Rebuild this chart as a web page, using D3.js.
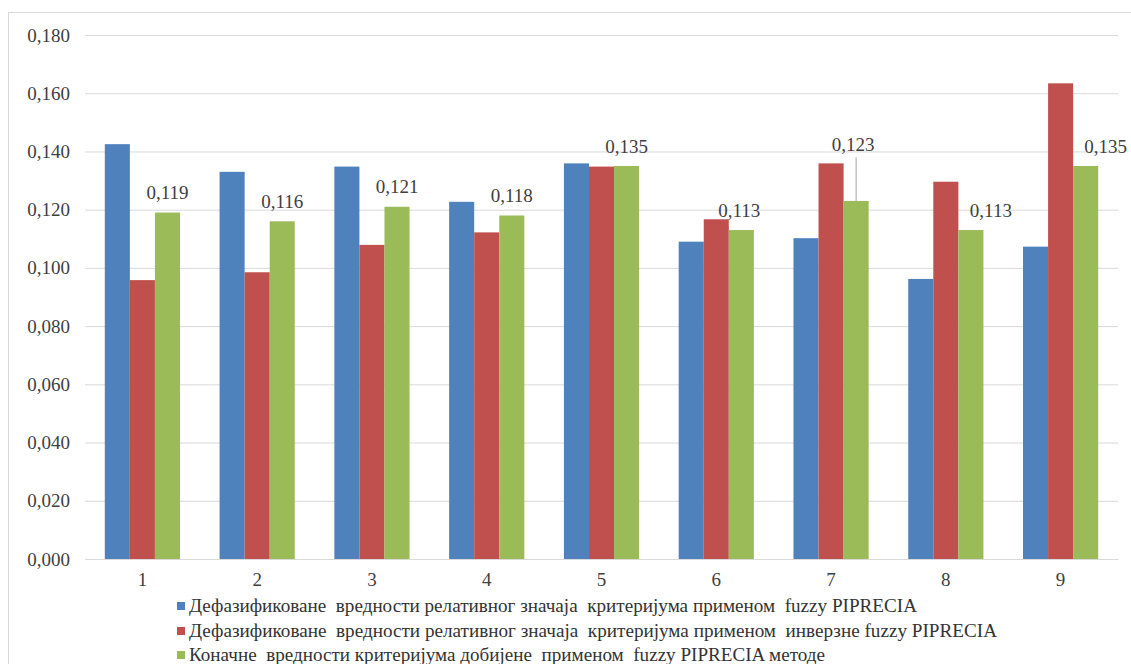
<!DOCTYPE html>
<html>
<head>
<meta charset="utf-8">
<script src="https://cdn.jsdelivr.net/npm/d3@7"></script>
<style>
  body { margin: 0; background: #ffffff; }
  svg { display: block; }
  svg text { font-family: 'Liberation Serif', 'DejaVu Serif', serif !important; }
</style>
</head>
<body>
<svg id="chart" width="1131" height="664"></svg>
<script>
// Criteria 1..9
const categories = ["1", "2", "3", "4", "5", "6", "7", "8", "9"];

// Defuzzified relative importance, fuzzy PIPRECIA
const fuzzyValues = [0.1425, 0.1330, 0.1348, 0.1227, 0.1359, 0.1090, 0.1102, 0.0962, 0.1073];
// Defuzzified relative importance, inverse fuzzy PIPRECIA
const inverseValues = [0.0958, 0.0985, 0.1079, 0.1122, 0.1348, 0.1167, 0.1359, 0.1296, 0.1634];
// Final criteria weights
const finalValues = [0.119, 0.116, 0.121, 0.118, 0.135, 0.113, 0.123, 0.113, 0.135];

const yTicks = [0, 0.02, 0.04, 0.06, 0.08, 0.10, 0.12, 0.14, 0.16, 0.18];

const seriesNames = [
  "Дефазификоване  вредности релативног значаја  критеријума применом  fuzzy PIPRECIA",
  "Дефазификоване  вредности релативног значаја  критеријума применом  инверзне fuzzy PIPRECIA",
  "Коначне  вредности критеријума добијене  применом  fuzzy PIPRECIA методе"
];

// ---- layout / style ----
const FONT = "'Liberation Serif', 'DejaVu Serif', serif";
const colors = ["#4f81bd", "#c0504d", "#9bbb59"];
const plot = { left: 85, right: 1118, top: 35, bottom: 559 };
// Hand-placed value labels: extra shift from default spot, and whether a leader line is drawn
const labelLayout = [
  { dx: 0, dy: 0, leader: false },
  { dx: 0, dy: 0, leader: false },
  { dx: 0, dy: 0, leader: false },
  { dx: 0, dy: 0, leader: false },
  { dx: 0, dy: 0, leader: false },
  { dx: -2, dy: 0, leader: false },
  { dx: -3, dy: -36.5, leader: true },
  { dx: 20, dy: 0, leader: false },
  { dx: 20, dy: 0, leader: false }
];
const legendLayout = { x: 177, rows: [606, 631, 655], widths: [728, 808, 636] };

const fmt = v => d3.format(".3f")(v).replace(".", ",");

const svg = d3.select("#chart");

// outer chart frame
svg.append("rect")
  .attr("x", 8.5).attr("y", 12.5)
  .attr("width", 1140).attr("height", 700)
  .attr("fill", "#ffffff").attr("stroke", "#d9d9d9").attr("stroke-width", 1);

const x = d3.scaleBand().domain(categories)
  .range([plot.left, plot.right]).paddingInner(0.345).paddingOuter(0.1725);
const xs = d3.scaleBand().domain([0, 1, 2]).range([0, x.bandwidth()]);
const y = d3.scaleLinear().domain([0, 0.18]).range([plot.bottom, plot.top]);

// y axis with gridlines
const yAxis = svg.append("g")
  .attr("transform", `translate(${plot.left},0)`)
  .call(d3.axisLeft(y).tickValues(yTicks).tickFormat(fmt)
    .tickSize(-(plot.right - plot.left)).tickPadding(15));
yAxis.attr("font-family", null);
yAxis.select(".domain").remove();
yAxis.selectAll(".tick line").attr("stroke", "#d9d9d9").attr("stroke-width", 1);
yAxis.selectAll(".tick text")
  .style("font-family", FONT)
  .attr("font-size", 19).attr("fill", "#404040");

// bars
const series = [fuzzyValues, inverseValues, finalValues];
series.forEach((vals, si) => {
  svg.append("g").selectAll("rect")
    .data(vals)
    .join("rect")
    .attr("x", (d, i) => x(categories[i]) + xs(si))
    .attr("y", d => y(d))
    .attr("width", xs.bandwidth())
    .attr("height", d => y(0) - y(d))
    .attr("fill", colors[si]);
});

// x axis
const xAxis = svg.append("g")
  .attr("transform", `translate(0,${plot.bottom})`)
  .call(d3.axisBottom(x).tickSize(0).tickPadding(14));
xAxis.attr("font-family", null);
xAxis.select(".domain").attr("stroke", "#d9d9d9");
xAxis.selectAll(".tick text")
  .style("font-family", FONT)
  .attr("font-size", 19).attr("fill", "#404040");

// value labels on the final-weight bars
const labels = svg.append("g");
finalValues.forEach((v, i) => {
  const cx = x(categories[i]) + xs(2) + xs.bandwidth() / 2;
  const lay = labelLayout[i];
  const ly = y(v) - 20 + lay.dy;
  if (lay.leader) {
    labels.append("line")
      .attr("x1", cx).attr("x2", cx)
      .attr("y1", ly + 13).attr("y2", y(v))
      .attr("stroke", "#a6a6a6").attr("stroke-width", 1);
  }
  labels.append("text")
    .attr("x", cx + lay.dx).attr("y", ly)
    .attr("text-anchor", "middle")
    .attr("dominant-baseline", "central")
    .style("font-family", FONT)
    .attr("font-size", 19).attr("fill", "#404040")
    .text(fmt(v));
});

// legend
const legend = svg.append("g");
seriesNames.forEach((name, i) => {
  const ry = legendLayout.rows[i];
  legend.append("rect")
    .attr("x", legendLayout.x).attr("y", ry - 4)
    .attr("width", 8).attr("height", 8)
    .attr("fill", colors[i]);
  legend.append("text")
    .attr("x", legendLayout.x + 12).attr("y", ry)
    .attr("dominant-baseline", "central")
    .style("font-family", FONT)
    .attr("font-size", 18).attr("fill", "#333333")
    .attr("textLength", legendLayout.widths[i])
    .attr("lengthAdjust", "spacingAndGlyphs")
    .style("white-space", "pre")
    .text(name);
});
</script>
</body>
</html>
